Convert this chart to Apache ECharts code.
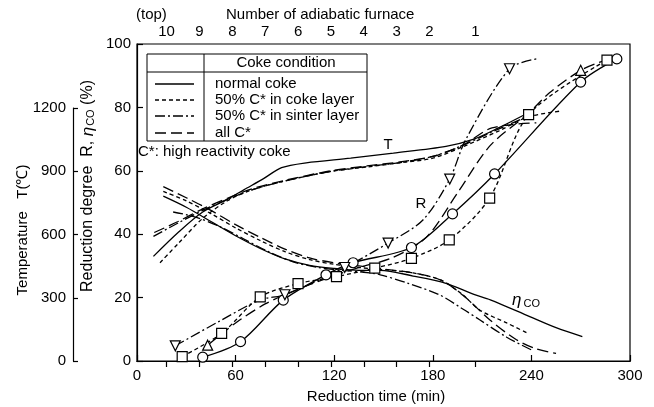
<!DOCTYPE html>
<html><head><meta charset="utf-8">
<script src="https://cdn.jsdelivr.net/npm/echarts@6/dist/echarts.min.js"></script>
<style>html,body{margin:0;padding:0;background:#fff}#c{width:654px;height:407px}</style>
</head><body><div id="c"></div>
<script>
// ---- axes / labels ----
const xMin = 0, xMax = 300, xStep = 60;
const yMin = 0, yMax = 100, yStep = 20;
const tempMax = 1200, tempStep = 300, tempScaleMax = 1500;
const furnaceTimes = [18, 38, 58, 78, 98, 118, 138, 158, 178, 206];
const furnaceLabels = ['10', '9', '8', '7', '6', '5', '4', '3', '2', '1'];
const legendNames = ['normal coke', '50% C* in coke layer', '50% C* in sinter layer', 'all C*'];

// ---- Reduction degree R (%) : [time (min), R (%)] ----
const rNormal = [[40,1.2],[63,6.1],[89,19.2],[115,27.2],[131.5,31],[167,35.8],[192,46.4],[217.6,59],[270,88],[292,95.3]];
const rNormalMarks = [0,1,2,3,4,5,6,7,8,9];
const rCoke = [[27.5,1.4],[51.5,8.7],[75,20.2],[98,24.4],[121.4,26.6],[144.7,29.3],[167,32.4],[190,38.2],[214.6,51.4],[238.3,77.7],[286,94.9]];
const rCokeMarks = [0,1,2,3,4,5,6,7,8,9,10];
const rSinter = [[23.3,4.8],[50,12.5],[75,19.3],[90,20.9],[126.4,29.5],[152.8,37.2],[174,44.5],[190.3,57.4],[200,69.8],[226.7,92.2],[243,95.3]];
const rSinterMarks = [0,3,4,5,7,9];
const rAll = [[43,5],[60,12],[78,18],[95,22],[115,26],[135,29.5],[155,32.5],[176,39],[195,53],[215,68],[238,78],[251,84.6],[270,91.7],[283,94.5]];
const rAllMarks = [0,12];

// ---- CO utilisation eta_CO (%) ----
const etaNormal = [[16,52],[30,48.5],[45,44],[60,39.5],[75,35.5],[90,32.2],[105,30.2],[120,29.2],[135,28.6],[148,28.6],[168,26.8],[188,24.5],[205,21],[215,19.3],[239,14],[255,10.5],[271,7.7]];
const etaCoke = [[16,53.5],[30,50.5],[45,46.5],[60,42],[75,38],[90,34.5],[105,32],[120,30.5],[135,29.5],[150,28.8],[168,27.8],[185,25.5],[198,21],[208.5,16.1],[225,12],[238,8.7]];
const etaSinter = [[22,47],[35,45.5],[50,42.5],[65,38.5],[80,34.5],[95,31.3],[110,29.5],[125,28.6],[138,28],[148,27.2],[165,24.5],[184,20.9],[198,16.5],[208.5,13],[225,7.5],[240,3.5]];
const etaAll = [[16,55],[30,51.5],[45,47.5],[60,43],[75,39],[90,35.3],[105,32.5],[120,31],[135,30],[150,29],[168,27.8],[185,25.5],[200,20],[214.6,13],[230,7],[242,4],[255,2.4]];

// ---- Temperature T (degC) ----
const tNormal = [[10,495],[25,608],[40,705],[55,765],[65,810],[77,863],[88,915],[103,938],[130,960],[156,984],[188,1016],[205,1050],[220,1103],[237,1170]];
const tCoke = [[14,465],[25,555],[40,675],[55,758],[70,810],[90,852],[118,897],[140,918],[160,938],[180,960],[198,1013],[220,1088],[238,1155],[257,1182]];
const tSinter = [[10,590],[25,653],[40,713],[55,765],[70,810],[90,852],[118,897],[140,920],[160,939],[180,968],[198,1020],[215,1080],[237,1155]];
const tAll = [[10.5,608],[25,660],[40,720],[55,770],[70,815],[90,855],[118,900],[140,923],[160,942],[180,968],[198,1020],[216,1103],[243,1127]];

const FONT = "'Liberation Sans', Arial, Helvetica, sans-serif";
const INK = '#000';
const dashes = { normal: 'solid', coke: [4, 3], sinter: [10, 3, 2, 3], all: [11, 5] };

function marked(arr, marks, sym) {
  return arr.map((p, i) => ({ value: p, symbol: marks.includes(i) ? sym : 'none' }));
}
function mkLine(name, data, dash, yIdx, sym, rot) {
  return {
    type: 'line', name: name, xAxisIndex: 0, yAxisIndex: yIdx, data: data,
    smooth: 0.3, symbol: sym || 'none', symbolSize: 10, symbolRotate: rot || 0,
    showSymbol: true, showAllSymbol: true, silent: true, z: sym ? 4 : 2,
    lineStyle: { color: INK, width: 1.3, type: dash },
    itemStyle: { color: '#fff', borderColor: INK, borderWidth: 1.2, opacity: 1 }
  };
}

const chart = echarts.init(document.getElementById('c'), null, { renderer: 'canvas' });
const axisTxt = { color: INK, fontSize: 15, fontFamily: FONT };

const legendRows = [84, 100, 116, 133];
const legendDash = [null, [4, 3], [10, 3, 2, 3], [11, 5]];
const graphics = [
  { type: 'text', left: 136, top: 7, style: { text: '(top)', fontSize: 15, fontFamily: FONT, fill: INK } },
  { type: 'text', left: 226, top: 7, style: { text: 'Number of adiabatic furnace', fontSize: 15, fontFamily: FONT, fill: INK } },
  { type: 'text', x: 88, y: 186, rotation: Math.PI / 2, style: {
      text: 'Reduction degree  R, {g|η}{s|CO} (%)', fontSize: 16, fontFamily: FONT, fill: INK,
      align: 'center', verticalAlign: 'middle',
      rich: { g: { fontSize: 17, fontStyle: 'italic', fontFamily: FONT, fill: INK }, s: { fontSize: 11, fontFamily: FONT, fill: INK, padding: [6, 0, 0, 1] } } } },
  { type: 'text', x: 23, y: 230, rotation: Math.PI / 2, style: {
      text: 'Temperature   T(℃)', fontSize: 15, fontFamily: FONT, fill: INK, align: 'center', verticalAlign: 'middle' } },
  { type: 'text', x: 376, y: 397, style: { text: 'Reduction time (min)', fontSize: 15, fontFamily: FONT, fill: INK, align: 'center', verticalAlign: 'middle' } },
  // legend box
  { type: 'rect', shape: { x: 147, y: 54, width: 220, height: 87 }, style: { fill: '#fff', stroke: INK, lineWidth: 1 }, z: 10 },
  { type: 'line', shape: { x1: 147, y1: 72, x2: 367, y2: 72 }, style: { stroke: INK, lineWidth: 1 }, z: 11 },
  { type: 'line', shape: { x1: 204, y1: 54, x2: 204, y2: 141 }, style: { stroke: INK, lineWidth: 1 }, z: 11 },
  { type: 'text', x: 286, y: 63, style: { text: 'Coke condition', fontSize: 15, fontFamily: FONT, fill: INK, align: 'center', verticalAlign: 'middle' }, z: 11 },
  { type: 'text', left: 138, top: 144, style: { text: 'C*: high reactivity coke', fontSize: 15, fontFamily: FONT, fill: INK }, z: 11 },
  // curve labels
  { type: 'text', x: 388, y: 145, style: { text: 'T', fontSize: 15, fontFamily: FONT, fill: INK, align: 'center', verticalAlign: 'middle' } },
  { type: 'text', x: 421, y: 204, style: { text: 'R', fontSize: 15, fontFamily: FONT, fill: INK, align: 'center', verticalAlign: 'middle' } },
  { type: 'text', left: 512, top: 292, style: { text: '{g|η}{s|CO}', fill: INK,
      rich: { g: { fontSize: 17, fontStyle: 'italic', fontFamily: FONT, fill: INK }, s: { fontSize: 11, fontFamily: FONT, fill: INK, padding: [7, 0, 0, 2] } } } }
];
legendNames.forEach((n, i) => {
  graphics.push({ type: 'line', shape: { x1: 155, y1: legendRows[i], x2: 194, y2: legendRows[i] },
    style: { stroke: INK, lineWidth: 1.3, lineDash: legendDash[i] }, z: 11 });
  graphics.push({ type: 'text', left: 215, top: legendRows[i] - 8, style: { text: n, fontSize: 15, fontFamily: FONT, fill: INK }, z: 11 });
});

const option = {
  animation: false,
  backgroundColor: '#fff',
  grid: [
    { left: 137, right: 24, top: 44, bottom: 46, show: true, borderColor: INK, borderWidth: 1.2, backgroundColor: 'transparent' },
    { left: 73, width: 20, top: 108, bottom: 46 }
  ],
  xAxis: [
    { gridIndex: 0, type: 'value', min: xMin, max: xMax, interval: xStep, position: 'bottom',
      axisLine: { show: true, lineStyle: { color: INK, width: 1.2 } },
      axisTick: { show: true, inside: true, length: 6, lineStyle: { color: INK, width: 1.2 } },
      axisLabel: Object.assign({ margin: 7 }, axisTxt), splitLine: { show: false } },
    { gridIndex: 0, type: 'value', min: xMin, max: xMax, position: 'top',
      axisLine: { show: true, lineStyle: { color: INK, width: 1.2 } },
      axisTick: { show: true, inside: true, length: 6, customValues: furnaceTimes, lineStyle: { color: INK, width: 1.2 } },
      axisLabel: Object.assign({ margin: 5, customValues: furnaceTimes, formatter: v => furnaceLabels[furnaceTimes.indexOf(v)] || '' }, axisTxt),
      splitLine: { show: false } },
    { gridIndex: 1, type: 'value', min: 0, max: 1, show: false }
  ],
  yAxis: [
    { gridIndex: 0, type: 'value', min: yMin, max: yMax, interval: yStep, position: 'left',
      axisLine: { show: true, lineStyle: { color: INK, width: 1.2 } },
      axisTick: { show: true, inside: true, length: 6, lineStyle: { color: INK, width: 1.2 } },
      axisLabel: Object.assign({ margin: 6 }, axisTxt), splitLine: { show: false } },
    { gridIndex: 0, type: 'value', min: 0, max: tempScaleMax, show: false },
    { gridIndex: 1, type: 'value', min: 0, max: tempMax, interval: tempStep, position: 'left',
      axisLine: { show: true, lineStyle: { color: INK, width: 1.2 } },
      axisTick: { show: true, inside: true, length: 5, lineStyle: { color: INK, width: 1.2 } },
      axisLabel: Object.assign({ margin: 7, formatter: v => String(v) }, axisTxt), splitLine: { show: false } }
  ],
  series: [
    mkLine('T normal', tNormal, dashes.normal, 1),
    mkLine('T coke', tCoke, dashes.coke, 1),
    mkLine('T sinter', tSinter, dashes.sinter, 1),
    mkLine('T all', tAll, dashes.all, 1),
    mkLine('eta normal', etaNormal, dashes.normal, 0),
    mkLine('eta coke', etaCoke, dashes.coke, 0),
    mkLine('eta sinter', etaSinter, dashes.sinter, 0),
    mkLine('eta all', etaAll, dashes.all, 0),
    mkLine('R normal', marked(rNormal, rNormalMarks, 'circle'), dashes.normal, 0, 'circle'),
    mkLine('R coke', marked(rCoke, rCokeMarks, 'rect'), dashes.coke, 0, 'rect'),
    mkLine('R sinter', marked(rSinter, rSinterMarks, 'triangle'), dashes.sinter, 0, 'triangle', 180),
    mkLine('R all', marked(rAll, rAllMarks, 'triangle'), dashes.all, 0, 'triangle')
  ],
  graphic: graphics
};
chart.setOption(option);
</script>
</body></html>
